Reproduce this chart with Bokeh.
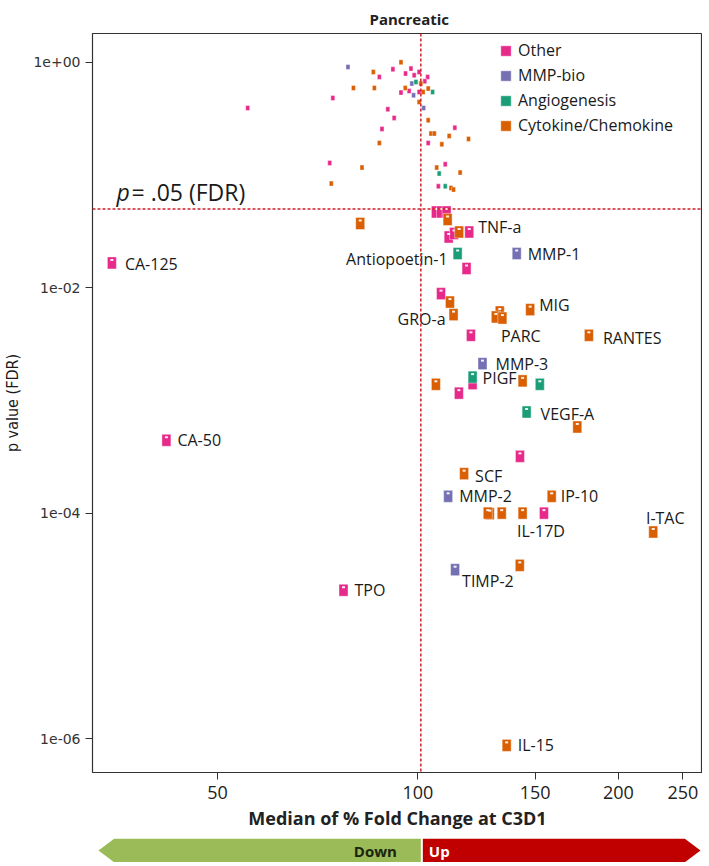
import math
from bokeh.plotting import figure
from bokeh.models import (Range1d, Span, Label, FixedTicker, Legend, LegendItem,
                          ColumnDataSource, NumeralTickFormatter)
from bokeh.layouts import column
from bokeh.core.properties import value
from bokeh.embed import file_html
from bokeh.resources import INLINE

# ---------------- data ----------------
categories = ["Other", "MMP-bio", "Angiogenesis", "Cytokine/Chemokine"]
palette = ["#E7298A", "#7570B3", "#1B9E77", "#D95F02"]

other_fc = [87.5, 91.7, 95.8, 97.6, 98.7, 100.4, 103.4, 102.4, 74.5, 55.5,
            94.3, 97.0, 100.4, 90.1, 92.1, 113.6, 88.3, 103.6, 73.7, 109.9,
            107.3, 34.7, 41.9, 77.3, 106.4, 108.3, 110.4, 111.2, 113.3, 119.4,
            118.3, 108.3, 120.1, 120.8, 115.2, 142.3, 154.6]
other_p = [0.741, 0.867, 0.794, 0.879, 0.767, 0.820, 0.741, 0.678, 0.482, 0.393,
           0.538, 0.556, 0.545, 0.383, 0.321, 0.263, 0.256, 0.192, 0.128, 0.1245,
           0.0794, 0.0166, 0.000443, 2.07e-5, 0.047, 0.047, 0.047, 0.0282, 0.0302, 0.0312,
           0.0148, 0.00886, 0.00378, 0.00141, 0.00116, 0.000319, 1.0e-4]
other_name = [""] * 21 + ["CA-125", "CA-50", "TPO", "", "", "", "", "", "TNF-a",
                          "", "", "PARC", "", "", "", "IL-17D"]

mmp_fc = [78.5, 97.9, 98.5, 102.0, 140.7, 125.0, 111.0, 113.7]
mmp_p = [0.908, 0.647, 0.510, 0.393, 0.0201, 0.00212, 0.000141, 3.15e-5]
mmp_name = ["", "", "", "", "MMP-1", "MMP-3", "MMP-2", "TIMP-2"]

ang_fc = [99.3, 105.2, 107.6, 109.9, 114.7, 120.8, 152.4, 145.6]
ang_p = [0.669, 0.545, 0.1029, 0.0794, 0.0201, 0.00161, 0.00139, 0.000789]
ang_name = ["", "", "", "", "Antiopoetin-1", "PIGF", "", "VEGF-A"]

cyt_fc = [94.3, 85.7, 101.0, 80.0, 86.0, 95.7, 101.8, 103.6, 100.4, 103.6,
          104.6, 105.8, 111.4, 119.1, 87.5, 108.6, 82.4, 106.7, 115.7, 74.1,
          112.1, 113.1,
          81.9, 110.8, 115.3, 111.7, 113.1, 132.7, 130.9, 133.9, 147.4, 180.6,
          106.4, 143.6, 173.5, 117.3, 158.8, 128.2, 127.3, 133.6, 143.6, 225.6,
          142.2, 135.9]
cyt_p = [1.0, 0.820, 0.647, 0.592, 0.592, 0.592, 0.545, 0.584, 0.444, 0.306,
         0.233, 0.233, 0.222, 0.209, 0.192, 0.187, 0.1163, 0.1163, 0.105, 0.0839,
         0.0767, 0.0742,
         0.0371, 0.0403, 0.0312, 0.00746, 0.00577, 0.00609, 0.0055, 0.00538, 0.00639, 0.00378,
         0.00139, 0.00149, 0.000581, 0.000224, 0.000141, 9.9e-5, 1.0e-4, 1.0e-4, 1.0e-4, 6.8e-5,
         3.44e-5, 8.7e-7]
cyt_name = [""] * 22 + ["", "", "", "", "GRO-a", "", "", "", "MIG", "RANTES",
                        "", "", "", "SCF", "IP-10", "", "", "", "", "I-TAC",
                        "", "IL-15"]

series = [(other_fc, other_p, other_name), (mmp_fc, mmp_p, mmp_name),
          (ang_fc, ang_p, ang_name), (cyt_fc, cyt_p, cyt_name)]

fdr_threshold = 0.05
median_ref = 101
x_ticks = [50, 100, 150, 200, 250]
y_ticks = [1, 1e-2, 1e-4, 1e-6]

# label placement (screen px offsets, alignment)
label_pos = {
    "CA-125": (13, 1, "left"), "CA-50": (11, 0, "left"), "TPO": (11, 0, "left"),
    "TNF-a": (9, -5, "left"), "Antiopoetin-1": (-10, 5, "right"), "MMP-1": (11, 0, "left"),
    "GRO-a": (-8, 4, "right"), "MIG": (9, -5, "left"), "PARC": (30, 1, "left"),
    "RANTES": (14, 3, "left"), "MMP-3": (13, 0, "left"), "PIGF": (10, 1, "left"),
    "VEGF-A": (14, 2, "left"), "SCF": (11, 2, "left"), "MMP-2": (11, 0, "left"),
    "IP-10": (9, 0, "left"), "IL-17D": (-3, 18, "center"), "I-TAC": (12, -14, "center"),
    "TIMP-2": (7, 11, "left"), "IL-15": (11, 0, "left"),
}

# ---------------- figure ----------------
FONT = "Open Sans"
NARROW = "Liberation Sans Narrow, DejaVu Sans Condensed, Liberation Sans, sans-serif"
FRAME_H = 739
p = figure(width=702, height=838, x_axis_type="log", y_axis_type="log",
           x_range=Range1d(32.45, 267.5), y_range=Range1d(5.0e-7, 1.8),
           output_backend="svg", toolbar_location=None,
           min_border_left=91, min_border_right=0, min_border_top=33, min_border_bottom=66)
p.background_fill_color = "white"
p.border_fill_color = "white"
p.outline_line_color = "#333333"
p.outline_line_width = 1.2
p.grid.visible = False

p.title.text = "Pancreatic"
p.title.text_font = FONT
p.title.text_font_style = "bold"
p.title.text_font_size = "15px"
p.title.text_color = "#222222"
p.title.align = "left"
p.title.offset = 277
p.title.standoff = 6
p.title.vertical_align = "top"

p.xaxis.ticker = FixedTicker(ticks=x_ticks, minor_ticks=[])
p.xaxis.formatter = NumeralTickFormatter(format="0")
p.yaxis.ticker = FixedTicker(ticks=y_ticks, minor_ticks=[])
p.yaxis.major_label_overrides = {t: f"{t:.0e}" for t in y_ticks}
for ax in (p.xaxis, p.yaxis):
    ax.axis_line_color = "#333333"
    ax.major_tick_line_color = "#333333"
    ax.major_tick_out = 7
    ax.major_tick_in = 0
    ax.minor_tick_out = 0
    ax.minor_tick_in = 0
p.xaxis.major_label_text_font = FONT
p.xaxis.major_label_text_font_size = "18px"
p.xaxis.major_label_text_color = "#222222"
p.xaxis.major_label_standoff = 6
p.xaxis.axis_label = "Median of % Fold Change at C3D1"
p.xaxis.axis_label_text_font = FONT
p.xaxis.axis_label_text_font_size = "18px"
p.xaxis.axis_label_text_font_style = "bold"
p.xaxis.axis_label_text_color = "#222222"
p.xaxis.axis_label_standoff = 4
p.yaxis.major_label_text_font = "DejaVu Sans"
p.yaxis.major_label_text_font_size = "14px"
p.yaxis.major_label_text_color = "#333333"
p.yaxis.major_label_standoff = 5
p.yaxis.axis_label = "p value (FDR)"
p.yaxis.axis_label_text_font = NARROW
p.yaxis.axis_label_text_font_style = "normal"
p.yaxis.axis_label_text_font_size = "16px"
p.yaxis.axis_label_text_color = "#1a1a1a"
p.yaxis.axis_label_standoff = 8

# reference lines
p.add_layout(Span(location=median_ref, dimension="height", line_color="#D0202A",
                  line_dash="3 2", line_width=1.5))
p.add_layout(Span(location=fdr_threshold, dimension="width", line_color="#D0202A",
                  line_dash="3 2", line_width=1.5))

# points
DECADE_PX = FRAME_H / math.log10(1.8 / 5.0e-7)
legend_items = []
groups = {"left": ([], [], [], [], []), "right": ([], [], [], [], []), "center": ([], [], [], [], [])}
for cat, col, (fc, pv, names) in zip(categories, palette, series):
    sig = [v < fdr_threshold for v in pv]
    src = ColumnDataSource(dict(
        x=fc, y=pv,
        w=[9 if s else 4 for s in sig],
        h=[12 if s else 5 for s in sig],
    ))
    r = p.rect(x="x", y="y", width="w", height="h", width_units="screen",
               height_units="screen", source=src, fill_color=col,
               line_color="white", line_width=0.6, line_alpha=0.7)
    dot = ColumnDataSource(dict(
        x=[x for x, s in zip(fc, sig) if s],
        y=[v * 10 ** (3.0 / DECADE_PX) for v, s in zip(pv, sig) if s],
    ))
    p.rect(x="x", y="y", width=3, height=2, width_units="screen", height_units="screen",
           source=dot, fill_color="white", line_color=None, fill_alpha=0.9)
    legend_items.append(LegendItem(label=cat, renderers=[r]))
    for x, v, n in zip(fc, pv, names):
        if n:
            dx, dy, al = label_pos[n]
            g = groups[al]
            g[0].append(x); g[1].append(v); g[2].append(n); g[3].append(dx); g[4].append(dy)

for al, (xs, ys, ts, dxs, dys) in groups.items():
    if not xs:
        continue
    s = ColumnDataSource(dict(x=xs, y=ys, t=ts, dx=dxs, dy=dys))
    p.text(x="x", y="y", text="t", x_offset="dx", y_offset="dy", source=s,
           text_align=al, text_baseline="middle", text_font=value(FONT),
           text_font_size="16px", text_color="#1a1a1a")

LEG_ROW, LEG_GAP = 22, 3
leg_h = len(categories) * LEG_ROW + (len(categories) - 1) * LEG_GAP
legend = Legend(items=legend_items, location=(407, FRAME_H - 6 - leg_h), orientation="vertical",
                glyph_width=13, glyph_height=13, label_height=LEG_ROW, spacing=LEG_GAP,
                padding=0, margin=0, label_standoff=6,
                label_text_font=FONT, label_text_font_size="16px",
                label_text_color="#1a1a1a", border_line_alpha=0,
                background_fill_alpha=0)
p.add_layout(legend)

# threshold annotation
p.add_layout(Label(x=24, y=fdr_threshold, x_units="screen", y_units="data", y_offset=17,
                   text="p", text_font=FONT, text_font_style="italic",
                   text_font_size="23px", text_color="#1a1a1a", text_baseline="alphabetic"))
p.add_layout(Label(x=39, y=fdr_threshold, x_units="screen", y_units="data", y_offset=17,
                   text="=  .05 (FDR)", text_font=FONT,
                   text_font_size="23px", text_color="#1a1a1a", text_baseline="alphabetic"))

# ---------------- Down / Up arrow ----------------
p2 = figure(width=702, height=24, x_axis_type="log", x_range=p.x_range,
            y_range=Range1d(0, 1), output_backend="svg", toolbar_location=None,
            x_axis_location=None, y_axis_location=None,
            min_border_left=91, min_border_right=0, min_border_top=0, min_border_bottom=0)
p2.outline_line_color = None
p2.grid.visible = False
x0, x1 = p.x_range.start, p.x_range.end
px = lambda n: 10 ** (n / 667.0)
xl = x0 * px(6)
xr = x1 / px(2)
head = px(16)
p2.patch(x=[xl, xl * head, median_ref, median_ref, xl * head], y=[0.5, 1, 1, 0, 0],
         fill_color="#9BBB59", line_color=None)
p2.patch(x=[median_ref * px(2), xr / head, xr, xr / head, median_ref * px(2)],
         y=[1, 1, 0.5, 0, 0], fill_color="#C00000", line_color=None)
p2.text(x=[median_ref / px(24)], y=[0.5], text=["Down"], text_align="right",
        text_baseline="middle", text_font=value(FONT), text_font_style="bold",
        text_font_size="15px", text_color="#1C2410")
p2.text(x=[median_ref * px(8)], y=[0.5], text=["Up"], text_align="left",
        text_baseline="middle", text_font=value(FONT), text_font_style="bold",
        text_font_size="15px", text_color="white")

layout = column(p, p2, spacing=0)
open("out.html", "w").write(file_html(layout, INLINE))
